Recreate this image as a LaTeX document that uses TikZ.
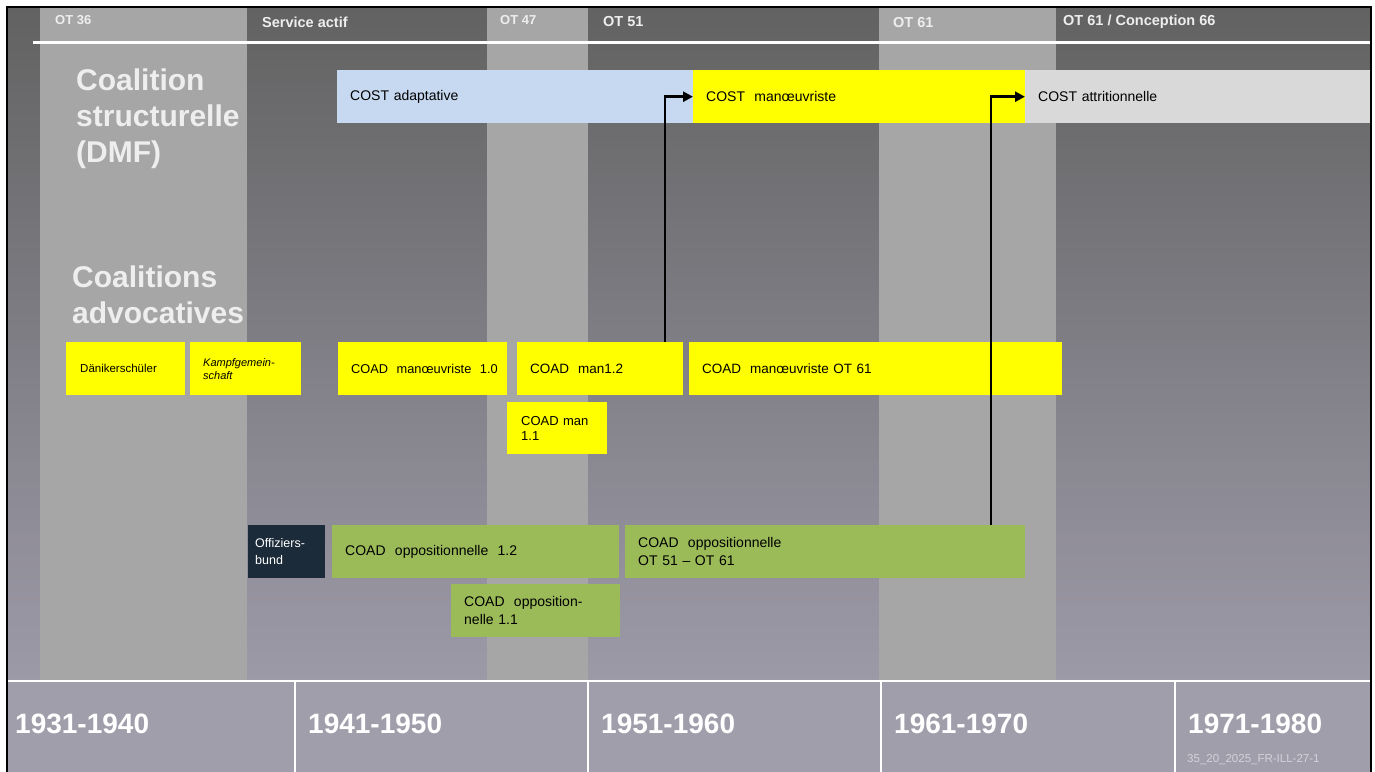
\documentclass[tikz,border=0pt]{standalone}
\usepackage{fontspec}
\setmainfont{Liberation Sans}
\usetikzlibrary{arrows.meta}
\definecolor{bgtop}{HTML}{626262}
\definecolor{bgbot}{HTML}{9D9AA8}
\definecolor{band}{HTML}{A19EAB}
\definecolor{stripe}{HTML}{A6A6A6}
\definecolor{costblue}{HTML}{C6D9F1}
\definecolor{costgray}{HTML}{D9D9D9}
\definecolor{yel}{HTML}{FFFF00}
\definecolor{grn}{HTML}{9BBB59}
\definecolor{navy}{HTML}{1C2B39}
\definecolor{hdr}{HTML}{EEEEEE}
\definecolor{foot}{HTML}{D4D2DA}
\tikzset{
  box/.style={anchor=north west, inner xsep=13pt, inner ysep=0pt, align=left,
    minimum height=53pt, font=\fontsize{14}{18}\selectfont, text=black},
  ybox/.style={box, fill=yel},
  gbox/.style={box, fill=grn},
  hlabel/.style={anchor=west, inner sep=0pt, text=hdr, font=\bfseries\fontsize{14.5}{17}\selectfont},
  biglabel/.style={anchor=north west, inner sep=0pt, align=left, text=hdr,
    font=\bfseries\fontsize{30}{36}\selectfont},
  year/.style={anchor=west, inner sep=0pt, text=white, font=\bfseries\fontsize{28}{32}\selectfont},
  link/.style={line width=2.5pt, -{Triangle[length=10pt,width=10pt]}},
}
\begin{document}
\begin{tikzpicture}[x=1pt,y=-1pt]
\useasboundingbox (0,0) rectangle (1375,771);
% background
\shade[top color=bgtop, bottom color=bgbot] (7,7) rectangle (1371,681);
\fill[stripe] (40,7) rectangle (247,681);
\fill[stripe] (487,7) rectangle (588,681);
\fill[stripe] (879,7) rectangle (1056,681);
\fill[band] (7,681) rectangle (1371,780);
\draw[white, line width=3pt] (33,42) -- (1371,42);
% header labels
\node[hlabel, font=\bfseries\fontsize{13}{15}\selectfont] (h36) at (55,20) {OT 36};
\node[hlabel] (hsa) at (262,22) {Service actif};
\node[hlabel, font=\bfseries\fontsize{13}{15}\selectfont] (h47) at (500,20) {OT 47};
\node[hlabel] (h51) at (603,22) {OT 51};
\node[hlabel] (h61) at (893,23) {OT 61};
\node[hlabel] (h66) at (1063,22) {OT 61 / Conception 66};
% big labels
\node[biglabel] (cs) at (76,69) {Coalition\\structurelle\\(DMF)};
\node[biglabel] (ca) at (72,266) {Coalitions\\advocatives};
% COST boxes
\node[box, fill=costblue, text width=330pt] (cad) at (337,70) {COST adaptative};
\node[box, fill=yel, text width=306pt] (cman) at (693,70) {COST~ manœuvriste};
\node[box, fill=costgray, text width=320pt] (catt) at (1025,70) {COST attritionnelle};
% COAD yellow
\node[ybox, inner xsep=14pt, text width=91pt, font=\fontsize{11.5}{13}\selectfont] (dan) at (66,342) {Dänikerschüler};
\node[ybox, text width=85pt, font=\itshape\fontsize{11}{13}\selectfont] (kampf) at (190,342) {Kampfgemein-\\schaft};
\node[ybox, text width=143pt, font=\fontsize{12.8}{17}\selectfont] (man10) at (338,342) {\mbox{COAD~ manœuvriste~ 1.0}};
\node[ybox, text width=140pt, font=\fontsize{13.5}{17}\selectfont] (man12) at (517,342) {COAD~ man1.2};
\node[ybox, text width=347pt, font=\fontsize{13.5}{17}\selectfont] (manot) at (689,342) {COAD~ manœuvriste OT 61};
\node[ybox, minimum height=52pt, inner xsep=14pt, text width=72pt, font=\fontsize{13}{15}\selectfont] (man11) at (507,402) {COAD man\\1.1};
% COAD green
\node[box, fill=navy, text=white, inner xsep=7pt, text width=63pt, font=\fontsize{12.5}{17}\selectfont] (off) at (248,525) {Offiziers-\\bund};
\node[gbox, text width=261pt] (opp12) at (332,525) {COAD~ oppositionnelle~ 1.2};
\node[gbox, text width=374pt] (oppot) at (625,525) {COAD~ oppositionnelle\\OT 51 – OT 61};
\node[gbox, text width=143pt] (opp11) at (451,584) {COAD~ opposition-\\nelle 1.1};
% connectors
\draw[link] ([xshift=65pt]man12.north) |- (cman.west);
\draw[link] ([xshift=166pt]oppot.north) |- (catt.west);
% bottom band
\draw[white, line width=2pt] (7,681) -- (1371,681);
\foreach \x in {295,588,881,1175} \draw[white, line width=1.5pt] (\x,681) -- (\x,780);
\node[year] (y1) at (15,724) {1931-1940};
\node[year] (y2) at (308,724) {1941-1950};
\node[year] (y3) at (601,724) {1951-1960};
\node[year] (y4) at (894,724) {1961-1970};
\node[year] (y5) at (1188,724) {1971-1980};
\node[anchor=west, inner sep=0pt, text=foot, font=\fontsize{11.5}{13}\selectfont] (ft) at (1187,760) {35\_20\_2025\_FR-ILL-27-1};
% frame
\draw[black, line width=2pt] (7,7) rectangle (1371,790);
\end{tikzpicture}
\end{document}
